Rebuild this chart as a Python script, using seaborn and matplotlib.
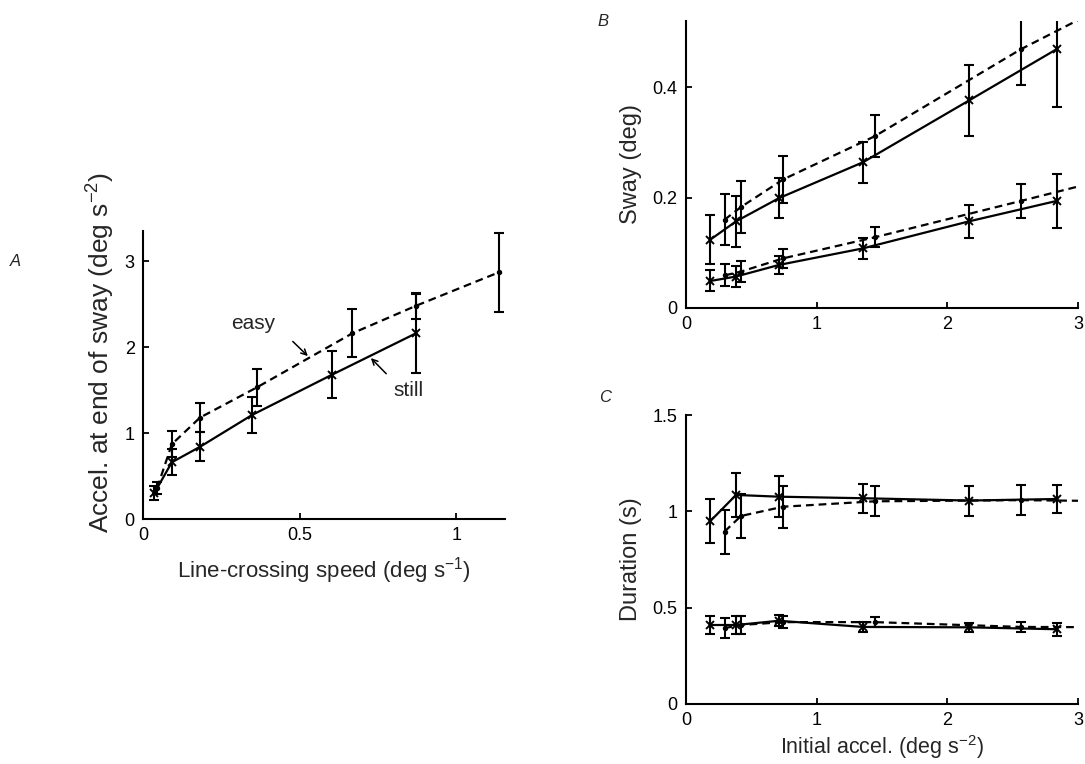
import matplotlib
matplotlib.use("Agg")
import matplotlib.pyplot as plt
import seaborn as sns
import numpy as np

# ---------------- data ----------------
# Panel A: accel at end of sway vs line-crossing speed
easy_speed = [0.045, 0.092, 0.182, 0.363, 0.668, 0.871, 1.136]
easy_accel = [0.36, 0.87, 1.18, 1.53, 2.16, 2.48, 2.87]
easy_err = [0.07, 0.15, 0.17, 0.21, 0.28, 0.15, 0.46]
still_speed = [0.036, 0.092, 0.182, 0.348, 0.604, 0.871]
still_accel = [0.30, 0.66, 0.84, 1.21, 1.68, 2.16]
still_err = [0.08, 0.15, 0.17, 0.21, 0.27, 0.46]

# Panels B, C: initial acceleration
solid_accel = [0.187, 0.383, 0.711, 1.354, 2.166, 2.837]
dashed_accel = [0.295, 0.421, 0.744, 1.443, 2.564, 3.4]

# Panel B: sway (deg)
solid_sway_hi = [0.124, 0.157, 0.199, 0.264, 0.376, 0.469]
solid_sway_hi_err = [0.045, 0.046, 0.036, 0.037, 0.065, 0.105]
dashed_sway_hi = [0.160, 0.183, 0.233, 0.311, 0.469, 0.570]
dashed_sway_hi_err = [0.046, 0.048, 0.042, 0.038, 0.065, 0.100]
solid_sway_lo = [0.049, 0.057, 0.078, 0.108, 0.157, 0.194]
solid_sway_lo_err = [0.019, 0.019, 0.017, 0.019, 0.030, 0.049]
dashed_sway_lo = [0.059, 0.066, 0.090, 0.128, 0.194, 0.244]
dashed_sway_lo_err = [0.020, 0.019, 0.017, 0.018, 0.031, 0.040]

# Panel C: duration (s)
solid_dur_hi = [0.950, 1.085, 1.076, 1.068, 1.056, 1.064]
solid_dur_hi_err = [0.114, 0.112, 0.105, 0.076, 0.078, 0.072]
dashed_dur_hi = [0.895, 0.976, 1.024, 1.052, 1.058, 1.052]
dashed_dur_hi_err = [0.114, 0.112, 0.110, 0.078, 0.078, 0.075]
solid_dur_lo = [0.410, 0.410, 0.432, 0.400, 0.398, 0.388]
solid_dur_lo_err = [0.046, 0.047, 0.029, 0.028, 0.025, 0.035]
dashed_dur_lo = [0.394, 0.410, 0.425, 0.425, 0.400, 0.398]
dashed_dur_lo_err = [0.052, 0.047, 0.030, 0.025, 0.028, 0.030]

# ---------------- style ----------------
sns.set_style("ticks")
plt.rcParams['font.family'] = ['Liberation Sans', 'DejaVu Sans']
plt.rcParams['mathtext.fontset'] = 'custom'
plt.rcParams['mathtext.rm'] = 'Liberation Sans'
plt.rcParams['mathtext.it'] = 'Liberation Sans:italic'

W, H = 1085, 764
fig = plt.figure(figsize=(W / 100, H / 100), dpi=100)


def add_axes_px(left, right, top, bottom):
    return fig.add_axes([left / W, 1 - bottom / H, (right - left) / W, (bottom - top) / H])


axA = add_axes_px(143, 505, 231, 519)
axB = add_axes_px(686, 1078, 21, 308)
axC = add_axes_px(686, 1078, 415, 704)

DASH = (0, (3.5, 2.2))
LW = 1.6


def series(ax, x, y, err, dashed, marker):
    ls = DASH if dashed else '-'
    sns.lineplot(x=x, y=y, ax=ax, color='k', linewidth=LW, linestyle=ls,
                 marker=marker, markersize=6 if marker == 'x' else 5,
                 markeredgewidth=1.4,
                 markerfacecolor='k', markeredgecolor='k', sort=False,
                 estimator=None, legend=False)
    ax.errorbar(x, y, yerr=err, fmt='none', ecolor='k', elinewidth=1.5,
                capsize=3.4, capthick=1.5)


def style_axes(ax):
    for s in ['top', 'right']:
        ax.spines[s].set_visible(False)
    for s in ['left', 'bottom']:
        ax.spines[s].set_linewidth(1.5)
        ax.spines[s].set_color('k')
    ax.tick_params(direction='in', length=4, width=1.3, labelsize=13, pad=6,
                   colors='k')


# Panel A
series(axA, easy_speed, easy_accel, easy_err, True, '.')
series(axA, still_speed, still_accel, still_err, False, 'x')
axA.set_xlim(0, 1.155)
axA.set_ylim(0, 3.35)
axA.set_xticks([0, 0.5, 1])
axA.set_xticklabels(['0', '0.5', '1'])
axA.set_yticks([0, 1, 2, 3])
axA.set_yticklabels(['0', '1', '2', '3'])
style_axes(axA)
axA.set_xlabel('Line-crossing speed (deg s$^{-1}$)', fontsize=16, labelpad=8)
axA.set_ylabel('Accel. at end of sway (deg s$^{-2}$)', fontsize=19)
axA.yaxis.set_label_coords(-0.072, 0.58)
axA.text(0.351, 2.273, 'easy', fontsize=15, ha='center', va='center')
axA.text(0.846, 1.50, 'still', fontsize=15, ha='center', va='center')
axA.annotate('', xy=(0.526, 1.895), xytext=(0.478, 2.065),
             arrowprops=dict(arrowstyle='->', lw=1.1, color='k',
                             shrinkA=0, shrinkB=0))
axA.annotate('', xy=(0.727, 1.872), xytext=(0.776, 1.69),
             arrowprops=dict(arrowstyle='->', lw=1.1, color='k',
                             shrinkA=0, shrinkB=0))

# Panel B
series(axB, dashed_accel, dashed_sway_hi, dashed_sway_hi_err, True, '.')
series(axB, solid_accel, solid_sway_hi, solid_sway_hi_err, False, 'x')
series(axB, dashed_accel, dashed_sway_lo, dashed_sway_lo_err, True, '.')
series(axB, solid_accel, solid_sway_lo, solid_sway_lo_err, False, 'x')
axB.set_xlim(0, 3)
axB.set_ylim(0, 0.52)
axB.set_xticks([0, 1, 2, 3])
axB.set_xticklabels(['0', '1', '2', '3'])
axB.set_yticks([0, 0.2, 0.4])
axB.set_yticklabels(['0', '0.2', '0.4'])
style_axes(axB)
axB.set_xlabel('')
axB.set_ylabel('Sway (deg)', fontsize=17)
axB.yaxis.set_label_coords(-0.112, 0.5)

# Panel C
series(axC, dashed_accel, dashed_dur_hi, dashed_dur_hi_err, True, '.')
series(axC, solid_accel, solid_dur_hi, solid_dur_hi_err, False, 'x')
series(axC, dashed_accel, dashed_dur_lo, dashed_dur_lo_err, True, '.')
series(axC, solid_accel, solid_dur_lo, solid_dur_lo_err, False, 'x')
axC.set_xlim(0, 3)
axC.set_ylim(0, 1.5)
axC.set_xticks([0, 1, 2, 3])
axC.set_xticklabels(['0', '1', '2', '3'])
axC.set_yticks([0, 0.5, 1, 1.5])
axC.set_yticklabels(['0', '0.5', '1', '1.5'])
style_axes(axC)
axC.set_xlabel('Initial accel. (deg s$^{-2}$)', fontsize=15.5, labelpad=3)
axC.set_ylabel('Duration (s)', fontsize=17)
axC.yaxis.set_label_coords(-0.112, 0.5)

# panel letters
fig.text(10 / W, 1 - 262 / H, 'A', fontsize=12, style='italic', va='center')
fig.text(597 / W, 1 - 22 / H, 'B', fontsize=12, style='italic', va='center')
fig.text(599 / W, 1 - 398 / H, 'C', fontsize=12, style='italic', va='center')

fig.savefig('out.png', dpi=100, facecolor='white')
